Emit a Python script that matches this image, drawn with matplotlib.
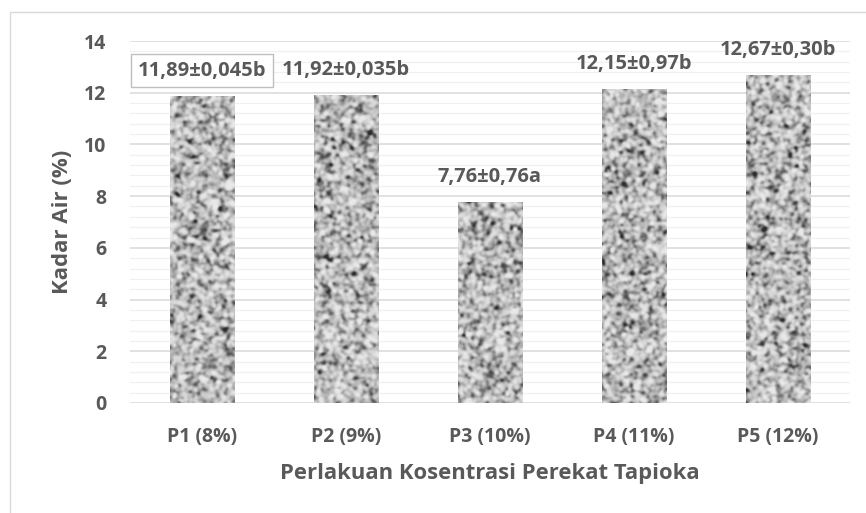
import numpy as np
import matplotlib
matplotlib.use("Agg")
import matplotlib.pyplot as plt
from matplotlib.patches import Rectangle
from matplotlib.colors import LinearSegmentedColormap

categories = ["P1 (8%)", "P2 (9%)", "P3 (10%)", "P4 (11%)", "P5 (12%)"]
kadar_air = [11.89, 11.92, 7.76, 12.15, 12.67]
value_labels = ["11,89±0,045b", "11,92±0,035b", "7,76±0,76a", "12,15±0,97b", "12,67±0,30b"]
y_ticks = [0, 2, 4, 6, 8, 10, 12, 14]

TEXT = "#595959"
FONT = ["Open Sans", "DejaVu Sans"]

fig = plt.figure(figsize=(8.66, 5.13), dpi=100)
fig.patch.set_facecolor("white")

# outer chart frame
frame = Rectangle((10 / 866, -0.05), 1.2, 1 - 12 / 513 + 0.05, transform=fig.transFigure,
                  facecolor="none", edgecolor="#d9d9d9", linewidth=1.0, zorder=-5)
fig.patches.append(frame)

ax = fig.add_axes([130 / 866, 110 / 513, 720 / 866, 362 / 513])
ax.set_facecolor("none")

# gridlines
for v in np.arange(0, 14.001, 0.4):
    major = abs(v / 2 - round(v / 2)) < 1e-6
    ax.axhline(v, color="#d9d9d9" if major else "#f0f0f0",
               linewidth=1.1 if major else 0.9, zorder=0.5)

for s in ax.spines.values():
    s.set_visible(False)

# mottled gray texture for the bars
rng = np.random.default_rng(7)
mottle = LinearSegmentedColormap.from_list(
    "mottle", ["#2e2e2e", "#707070", "#adadad", "#d2d2d2", "#e8e8e8"])


def smooth(a, sigma):
    r = int(3 * sigma)
    k = np.exp(-0.5 * (np.arange(-r, r + 1) / sigma) ** 2)
    k /= k.sum()
    a = np.apply_along_axis(lambda m: np.convolve(m, k, mode="same"), 0, a)
    a = np.apply_along_axis(lambda m: np.convolve(m, k, mode="same"), 1, a)
    return a


bar_w = 0.45
for i, v in enumerate(kadar_air):
    h_px = int(v * 362 / 14) + 1
    w_px = 66
    n = rng.normal(size=(h_px + 16, w_px + 16))
    t = smooth(n, 1.6)[8:-8, 8:-8]
    t = (t - t.mean()) / t.std()
    bar = ax.bar(i, v, width=bar_w, color="none", edgecolor="none", zorder=2)[0]
    im = ax.imshow(t, cmap=mottle, vmin=-3.0, vmax=2.1, aspect="auto",
                   extent=(i - bar_w / 2, i + bar_w / 2, 0, v), zorder=2,
                   interpolation="bilinear")
    im.set_clip_path(bar)

ax.set_xlim(-0.5, len(categories) - 0.5)
ax.set_ylim(0, 14)

# value labels
for i, (v, lab) in enumerate(zip(kadar_air, value_labels)):
    kw = {}
    if i == 0:
        kw["bbox"] = dict(boxstyle="square,pad=0.32", facecolor="white",
                          edgecolor="#bfbfbf", linewidth=1.0)
    ax.annotate(lab, (i, v), xytext=(0, 18), textcoords="offset points",
                ha="center", va="center", fontsize=14.5, fontweight="bold",
                color=TEXT, family=FONT, zorder=5, **kw)

ax.set_xticks(range(len(categories)))
ax.set_xticklabels(categories)
ax.set_yticks(y_ticks)
ax.tick_params(length=0, labelsize=14, labelcolor=TEXT)
for lbl in ax.get_xticklabels() + ax.get_yticklabels():
    lbl.set_fontweight("bold")
    lbl.set_family(FONT)
ax.tick_params(axis="x", pad=17)
ax.tick_params(axis="y", pad=17)

# axis titles
fig.text(62 / 866, 1 - 221.5 / 513, "Kadar Air (%)", rotation=90,
         ha="center", va="center", fontsize=16, fontweight="bold",
         color=TEXT, family=FONT)
fig.text(490 / 866, 1 - 473 / 513, "Perlakuan Kosentrasi Perekat Tapioka",
         ha="center", va="center", fontsize=15.8, fontweight="bold",
         color=TEXT, family=FONT)

fig.savefig("out.png", dpi=100, facecolor="white")
